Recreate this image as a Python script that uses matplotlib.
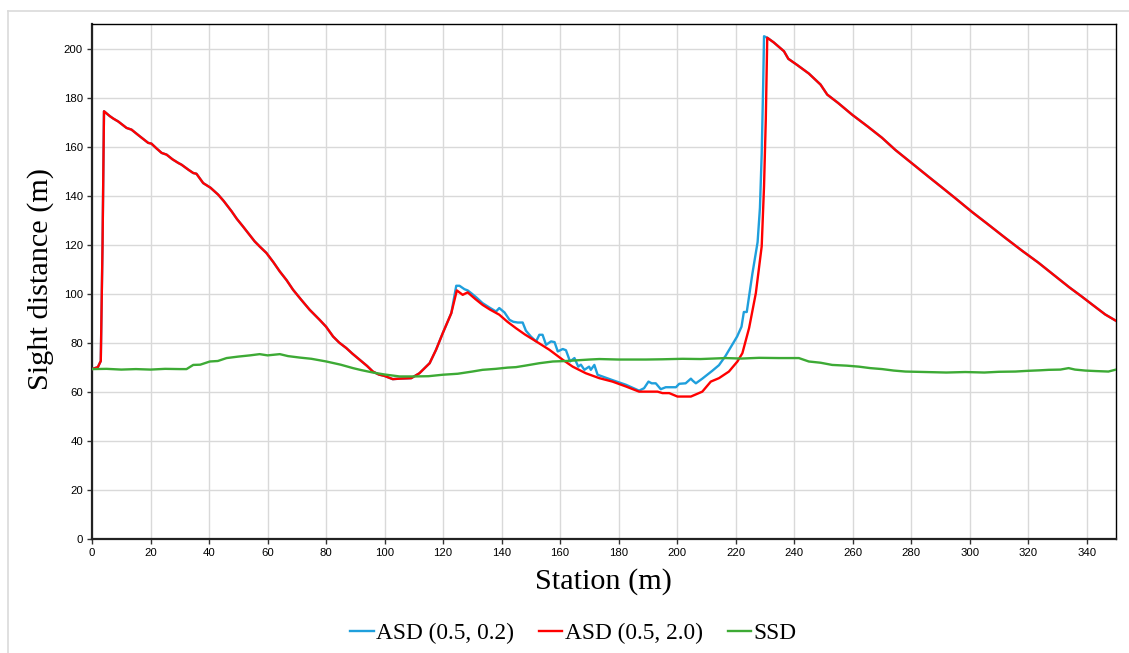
import matplotlib
matplotlib.use("Agg")
import matplotlib.pyplot as plt
from matplotlib.lines import Line2D
import numpy as np

# ---------------- data ----------------
red_x = [0, 2, 3, 3.6, 4.1, 6.1, 7.3, 9, 11.8, 13.5,
         16, 19.2, 20.3, 22, 23.8, 25.5, 27.5, 29.5, 30.6, 33,
         34.6, 35.7, 38, 40.5, 43.1, 45, 47.7, 49.5, 51.6, 53.5,
         55.6, 57.5, 59.6, 62, 64.2, 66.5, 68.7, 71.5, 74.4, 77.8,
         80, 82.4, 84.5, 86.9, 89, 91.5, 94, 96, 98, 100,
         102.8, 105.1, 109.1, 111.9, 115.4, 117.6, 119.9, 122.8, 124.7, 126.7,
         128.4, 131, 133.5, 136, 139.2, 142, 144.9, 148, 151.8, 156.3,
         160.9, 164.3, 168.8, 173.4, 177.9, 182.5, 187, 193.3, 195, 197.3,
         200.1, 204.7, 208.6, 211.5, 214.3, 217.7, 220.6, 222.3, 224.6, 226.9,
         228.9, 229.7, 230.3, 230.8, 233, 236.5, 238, 241, 245, 249,
         251.3, 255, 259.8, 265, 270, 274.6, 280, 286, 290, 295,
         300.8, 306, 312.2, 318, 323.5, 330, 334, 338.3, 342, 346.3,
         350]
red_y = [69.2, 70, 72.5, 120, 174.4, 172.4, 171.4, 170.2, 167.6, 166.9,
         164.5, 161.5, 161.2, 159.3, 157.4, 156.7, 154.8, 153.3, 152.6, 150.5,
         149.2, 148.9, 145.1, 143.2, 140.4, 137.8, 133.6, 130.5, 127.4, 124.5,
         121.3, 119.0, 116.6, 112.8, 109.0, 105.5, 101.6, 97.5, 93.4, 89.3,
         86.5, 82.5, 80.0, 77.8, 75.5, 73.0, 70.5, 68.2, 67.0, 66.4,
         65.1, 65.3, 65.5, 67.5, 71.6, 77.1, 83.9, 92.0, 101.3, 99.5,
         100.5, 97.8, 95.4, 93.5, 91.4, 88.5, 85.9, 83.3, 80.5, 77.1,
         73.0, 70.2, 67.5, 65.5, 64.1, 62.1, 60.0, 60.0, 59.4, 59.4,
         58.0, 58.0, 60.0, 64.1, 65.5, 68.2, 72.3, 75.7, 86.0, 100.2,
         119.3, 143.8, 171.0, 204.4, 202.5, 198.9, 195.8, 193.3, 189.8, 185.3,
         181.2, 177.8, 173.0, 168.3, 163.6, 158.6, 153.4, 147.6, 143.8, 139.0,
         133.3, 128.5, 122.7, 117.4, 112.6, 106.4, 102.6, 98.8, 95.4, 91.5,
         88.9]

# ASD (0.5, 0.2) differs from ASD (0.5, 2.0) only between ~123 m and ~231 m
blue_mid_x = [124.5, 125.6, 127.3, 128.4, 129.6, 131.5, 133.5, 136, 138.1, 139.2,
              141, 142.7, 144, 145.5, 147.2, 148.3, 150, 151.8, 152.9, 154,
              155.2, 156.9, 158.1, 159.2, 160.9, 162, 163.4, 164.9, 166.2, 167.1,
              168.3, 169.9, 170.5, 171.7, 172.8, 174.4, 177.9, 182.5, 187, 188.7,
              190.2, 191.3, 192.7, 194.4, 196.1, 199.6, 200.7, 202.9, 204.7, 205.3,
              206.4, 208.6, 212, 214.3, 216.5, 218.5, 220.5, 222, 222.8, 223.8,
              224.8, 225.7, 227.5, 228.3, 228.9, 229.4, 229.7]
blue_mid_y = [103.2, 103.2, 101.8, 101.3, 100.2, 98.3, 96.1, 94.2, 92.7, 94.1,
              92.3, 89.3, 88.5, 88.2, 88.2, 84.9, 82.5, 80.5, 83.2, 83.2,
              79.1, 80.5, 80.2, 76.4, 77.4, 76.9, 72.3, 73.7, 70.2, 71.0,
              68.9, 70.2, 68.9, 70.9, 66.9, 66.2, 64.7, 62.8, 60.4, 61.4,
              64.1, 63.4, 63.4, 61.0, 61.8, 61.8, 63.2, 63.4, 65.3, 64.5,
              63.4, 65.3, 68.5, 70.8, 74.5, 78.5, 82.5, 86.5, 92.5, 92.5,
              100.5, 108.0, 121.0, 135.0, 157.0, 185.0, 205.0]

green_x = [0, 5, 10, 15, 20, 25, 30, 32.3, 34.6, 37,
           40.3, 43, 46, 50, 54, 57.3, 60, 64.2, 67, 71,
           75, 80.1, 85, 89.2, 92, 96, 100, 105.1, 110, 115,
           119.9, 125, 130, 133.5, 138, 142, 144.9, 148, 152.9, 157.5,
           162, 166, 170, 173.4, 180, 189.3, 195, 201.8, 208, 216.6,
           222, 228, 234.8, 241.6, 245, 249, 253, 258, 262.1, 266,
           270.1, 274, 278, 285, 292, 298.5, 305, 310, 315.6, 320,
           324, 327, 331, 333.8, 336, 339.5, 343, 347.4, 349.7]
green_y = [69.2, 69.3, 69.0, 69.2, 69.0, 69.3, 69.2, 69.2, 70.9, 71.0,
           72.3, 72.5, 73.7, 74.3, 74.8, 75.3, 74.8, 75.3, 74.5, 73.9,
           73.4, 72.3, 71.0, 69.6, 68.8, 67.8, 67.0, 66.2, 66.2, 66.3,
           66.9, 67.3, 68.2, 68.9, 69.3, 69.8, 70.0, 70.6, 71.6, 72.3,
           72.5, 72.8, 73.1, 73.3, 73.1, 73.1, 73.2, 73.4, 73.3, 73.7,
           73.5, 73.8, 73.7, 73.7, 72.3, 71.8, 70.9, 70.6, 70.2, 69.6,
           69.2, 68.6, 68.2, 68.0, 67.8, 68.0, 67.8, 68.1, 68.2, 68.5,
           68.7, 68.9, 69.0, 69.6, 69.0, 68.6, 68.4, 68.2, 68.9]

x_ticks = list(range(0, 351, 20))
y_ticks = list(range(0, 201, 20))
series_labels = ["ASD (0.5, 0.2)", "ASD (0.5, 2.0)", "SSD"]

# build blue series from the shared parts of red + its own middle part
rx = np.array(red_x); ry = np.array(red_y)
blue_x = np.concatenate([rx[rx <= 122.8], blue_mid_x, rx[rx >= 230.8]])
blue_y = np.concatenate([ry[rx <= 122.8], blue_mid_y, ry[rx >= 230.8]])

# ---------------- figure ----------------
W, H = 1129, 653
fig = plt.figure(figsize=(W / 100, H / 100), dpi=100)
ax = fig.add_axes([92 / W, 1 - 538.7 / H, (1116 - 92) / W, (538.7 - 24) / H])

c_blue = "#1F9FDC"
c_red = "#FF0000"
c_green = "#3DAA35"

ax.plot(blue_x, blue_y, color=c_blue, lw=1.7, label=series_labels[0], zorder=3)
ax.plot(rx, ry, color=c_red, lw=1.7, label=series_labels[1], zorder=4)
ax.plot(green_x, green_y, color=c_green, lw=1.7, label=series_labels[2], zorder=5)

ax.set_xlim(0, 350)
ax.set_ylim(0, 210)
ax.set_xticks(x_ticks)
ax.set_yticks(y_ticks)
ax.grid(True, color="#D9D9D9", lw=1.0)
ax.set_axisbelow(True)

tick_font = dict(family=["Liberation Sans", "DejaVu Sans"], size=8.2)
ax.set_xticklabels([str(v) for v in x_ticks], **tick_font)
ax.set_yticklabels([str(v) for v in y_ticks], **tick_font)
ax.tick_params(direction="out", length=3.5, width=1, color="#333333", pad=3)

for side in ["top", "right"]:
    ax.spines[side].set_linewidth(1.0)
    ax.spines[side].set_color("black")
for side in ["left", "bottom"]:
    ax.spines[side].set_linewidth(1.6)
    ax.spines[side].set_color("#222222")

serif = ["Liberation Serif", "DejaVu Serif"]
fig.text(603.5 / W, 1 - 582 / H, "Station (m)", family=serif, size=21.8,
         ha="center", va="center")
fig.text(41 / W, 1 - 279 / H, "Sight distance (m)", family=serif, size=21.8,
         ha="center", va="center", rotation=90)

handles = [Line2D([], [], color=c, lw=1.7) for c in (c_blue, c_red, c_green)]
fig.legend(handles, series_labels, loc="center", bbox_to_anchor=(573.5 / W, 1 - 633 / H),
           ncol=3, frameon=False, prop=dict(family=serif, size=16.8),
           handlelength=1.0, handletextpad=0.12, columnspacing=1.05)

# faint outer frame of the source image
fig.add_artist(Line2D([7.5 / W, 7.5 / W], [0, 1 - 11 / H], transform=fig.transFigure,
                      color="#DADADA", lw=1.2))
fig.add_artist(Line2D([7.5 / W, 1], [1 - 11 / H, 1 - 11 / H], transform=fig.transFigure,
                      color="#DADADA", lw=1.2))

fig.savefig("out.png", dpi=100)
